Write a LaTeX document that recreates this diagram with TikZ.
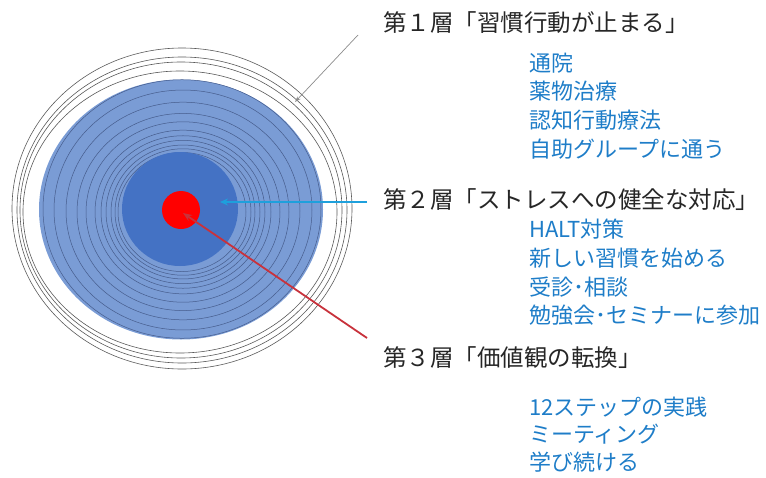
\documentclass[tikz,border=0pt]{standalone}
\usepackage{fontspec}
\newfontfamily\jp{Noto Sans CJK JP}
\usetikzlibrary{arrows.meta}
\definecolor{lightblu}{RGB}{122,156,213}
\definecolor{darkblu}{RGB}{68,114,196}
\definecolor{ringcol}{RGB}{70,92,140}
\definecolor{txtblue}{RGB}{30,125,200}
\definecolor{cyanarr}{RGB}{30,160,220}
\definecolor{redarr}{RGB}{200,50,60}
\begin{document}
\begin{tikzpicture}[x=1pt,y=-1pt,
  outring/.style={draw=black!65,line width=0.6pt},
  inring/.style={draw=ringcol,line width=0.5pt},
  head/.style={font=\jp\fontsize{23.5}{28}\selectfont,anchor=west,inner sep=0pt,text=black!85},
  item/.style={font=\jp\fontsize{22}{26}\selectfont,anchor=west,inner sep=0pt,text=txtblue}]
\useasboundingbox (0,0) rectangle (766,477);
% outer rings
\draw[outring] (182,208.5) ellipse [x radius=170,y radius=160.5];
\draw[outring] (182,210) ellipse [x radius=165,y radius=153];
\draw[outring] (181,210) ellipse [x radius=161,y radius=148];
\draw[outring] (180,212) ellipse [x radius=157,y radius=141];
% light blue disc
\fill[lightblu] (181,209.5) ellipse [x radius=142,y radius=130];
% inner rings
\foreach \r/\dx/\dy in {139/1/-2,129/2/-1,117/2/0,106/2/1,97/2/1,88/2/1,82/2/1,77/2/1,72/2/1,68/2/1,64/1/1}
  \draw[inring] (181+\dx,211+\dy) ellipse [x radius=\r,y radius=0.93*\r];
% dark blue disc
\fill[darkblu] (180,209) ellipse [x radius=58,y radius=57];
% red core
\node[circle,fill=red,minimum size=38pt,inner sep=0pt] (core) at (181,210) {};
\coordinate (tipA) at (295,102);
\coordinate (tipB) at (220,202);
\coordinate (tipC) at (183,213);
\coordinate (startA) at (358,35);
\coordinate (startB) at (367,202);
\coordinate (startC) at (367,338);
\draw[black!45,line width=0.7pt,-{Stealth[length=6pt,width=4pt,fill=black!60]}] (startA) -- (tipA);
\draw[cyanarr,line width=1.2pt,-{Stealth[length=8pt,width=7pt]}] (startB) -- (tipB);
\draw[redarr,line width=1.8pt,-{Stealth[length=9pt,width=7pt,fill=red!40!black]}] (startC) -- (tipC);
% texts
\node[head] (h1) at (383,23) {第１層「習慣行動が止まる」};
\node[item] (a1) at (529,63) {通院};
\node[item] (a2) at (529,91) {薬物治療};
\node[item] (a3) at (529,120) {認知行動療法};
\node[item] (a4) at (529,149) {自助グループに通う};
\node[head] (h2) at (383,200) {第２層「ストレスへの健全な対応」};
\node[item] (b1) at (529,229) {HALT対策};
\node[item] (b2) at (529,258) {新しい習慣を始める};
\node[item] (b3) at (529,287) {受診･相談};
\node[item] (b4) at (529,315) {勉強会･セミナーに参加};
\node[head] (h3) at (383,358) {第３層「価値観の転換」};
\node[item] (c1) at (529,407) {12ステップの実践};
\node[item] (c2) at (529,434) {ミーティング};
\node[item] (c3) at (529,462) {学び続ける};
\end{tikzpicture}
\end{document}
